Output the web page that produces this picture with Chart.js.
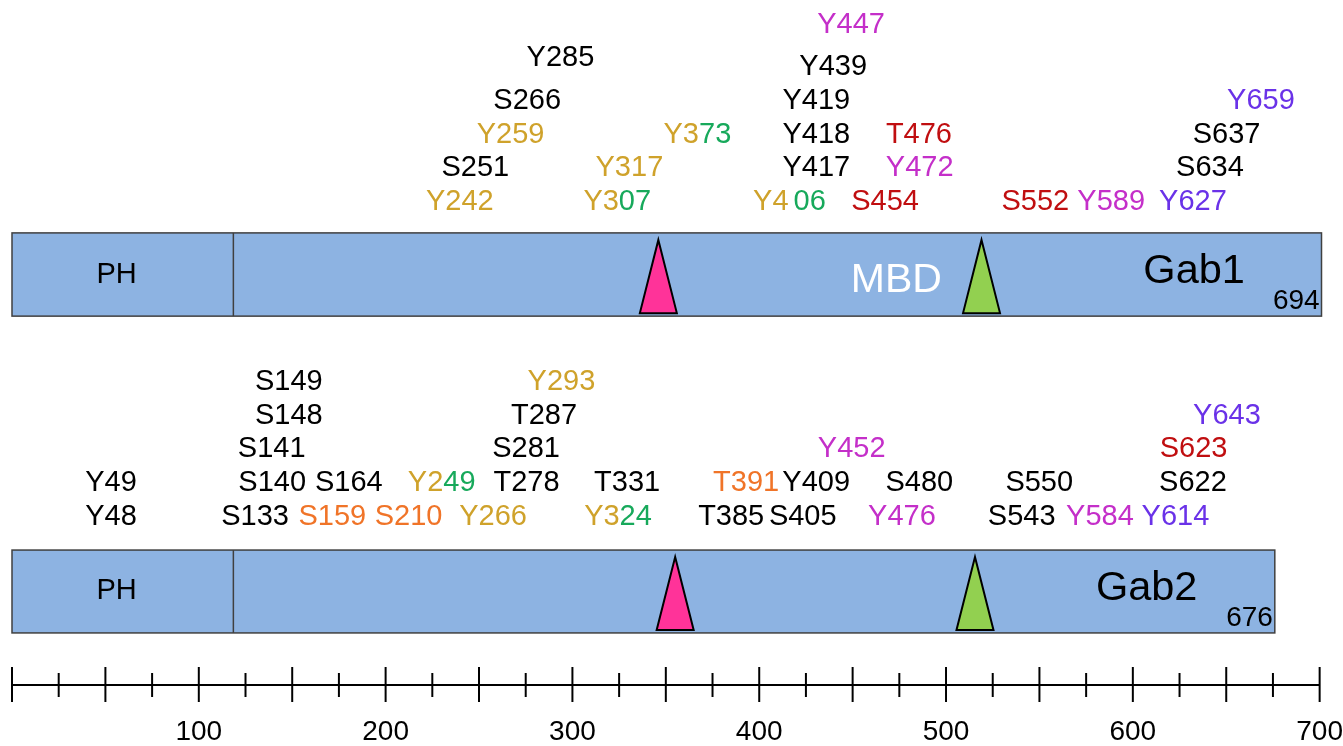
<!DOCTYPE html>
<html>
<head>
<meta charset="utf-8">
<script src="https://cdn.jsdelivr.net/npm/chart.js@4.4.0/dist/chart.umd.min.js"></script>
<style>
  html, body { margin: 0; padding: 0; background: #fff; }
  #wrap { width: 1343px; height: 746px; }
</style>
</head>
<body>
<div id="wrap"><canvas id="gab"></canvas></div>
<script>
// proteins
const proteins = ['Gab1', 'Gab2'];
const proteinLength = ['694', '676'];
const barEnd = [701, 676];        // Gab1 box is drawn out to the 700 mark in the figure
const phEnd = [118.5, 118.5];
const pinkMotif = [346, 355];
const greenMotif = [519, 515.5];
const axisTicks = [0, 700, 25];   // min, max, step

// Gab1 phosphosites: label, position on the residue axis, row above the box, colour
const gab1Sites = ['Y242', 'Y307', 'Y406', 'S454', 'S552', 'Y589', 'Y627',
  'S251', 'Y317', 'Y417', 'Y472', 'S634',
  'Y259', 'Y373', 'Y418', 'T476', 'S637',
  'S266', 'Y419', 'Y659',
  'Y285', 'Y439', 'Y447'];
const gab1SiteX = [239.7, 324, 416.2, 467.4, 547.8, 588.4, 632.2,
  248, 330.5, 430.6, 485.9, 641.3,
  266.9, 366.9, 430.6, 485.5, 650.2,
  275.8, 430.6, 668.6,
  293.6, 439.6, 449.2];
const gab1SiteRow = [0, 0, 0, 0, 0, 0, 0,
  1, 1, 1, 1, 1,
  2, 2, 2, 2, 2,
  3, 3, 3,
  4.27, 4, 5.25];
const gab1SiteColor = ['gold', 'gold+green', 'gold+green', 'red', 'red', 'magenta', 'purple',
  'black', 'gold', 'black', 'magenta', 'black',
  'gold', 'gold+green', 'black', 'red', 'black',
  'black', 'black', 'purple',
  'black', 'black', 'magenta'];

// Gab2 phosphosites
const gab2Sites = ['Y48', 'S133', 'S159', 'S210', 'Y266', 'Y324', 'T385', 'S405', 'Y476', 'S543', 'Y584', 'Y614',
  'Y49', 'S140', 'S164', 'Y249', 'T278', 'T331', 'T391', 'Y409', 'S480', 'S550', 'S622',
  'S141', 'S281', 'Y452', 'S623',
  'S148', 'T287', 'Y643',
  'S149', 'Y293'];
const gab2SiteX = [53, 130.1, 171.5, 212.3, 257.5, 324.4, 385, 423.3, 476.4, 540.5, 582.4, 622.8,
  53, 139.3, 180.3, 230, 275.4, 329.3, 393, 430.5, 485.7, 549.9, 632.2,
  139, 275.2, 449.5, 632.5,
  148.2, 284.8, 650.4,
  148.2, 294.1];
const gab2SiteRow = [0, 0, 0, 0, 0, 0, 0, 0, 0, 0, 0, 0,
  1, 1, 1, 1, 1, 1, 1, 1, 1, 1, 1,
  2, 2, 2, 2,
  3, 3, 3,
  4, 4];
const gab2SiteColor = ['black', 'black', 'orange', 'orange', 'gold', 'gold+green', 'black', 'black', 'magenta', 'black', 'magenta', 'purple',
  'black', 'black', 'black', 'gold+green', 'black', 'black', 'orange', 'black', 'black', 'black', 'black',
  'black', 'black', 'magenta', 'red',
  'black', 'black', 'purple',
  'black', 'gold'];

// vertical layout in row units (y axis runs 0..20)
const trackTop = [13.2, 3.94];
const trackBottom = [10.77, 1.52];
const rowBase = [14.1, 4.91];
const rowStep = 0.985;

const palette = {
  black: '#000000', gold: '#CFA22B', green: '#17A95B', red: '#C00E10',
  magenta: '#C42FC9', purple: '#6A32E8', orange: '#F07428'
};
const FONT = '"Liberation Sans", Arial, sans-serif';
const splitGap = { Y406: 5 };   // the figure leaves a wider gap between the two colours here

function siteData(xs, rows, p) {
  return xs.map((x, i) => ({ x: x, y: rowBase[p] + rows[i] * rowStep }));
}

const proteinBoxes = {
  id: 'proteinBoxes',
  beforeDatasetsDraw(chart) {
    const ctx = chart.ctx, xs = chart.scales.x, ys = chart.scales.y;
    ctx.save();
    proteins.forEach((name, p) => {
      const x0 = xs.getPixelForValue(0), x1 = xs.getPixelForValue(barEnd[p]);
      const yt = ys.getPixelForValue(trackTop[p]), yb = ys.getPixelForValue(trackBottom[p]);
      const yc = ys.getPixelForValue((trackTop[p] + trackBottom[p]) / 2);
      ctx.fillStyle = '#8DB3E2';
      ctx.fillRect(x0, yt, x1 - x0, yb - yt);
      ctx.strokeStyle = '#404040';
      ctx.lineWidth = 1.5;
      ctx.strokeRect(x0, yt, x1 - x0, yb - yt);
      const xp = xs.getPixelForValue(phEnd[p]);
      ctx.beginPath();
      ctx.moveTo(xp, yt); ctx.lineTo(xp, yb);
      ctx.stroke();

      // motif triangles
      [[pinkMotif[p], '#FF3399'], [greenMotif[p], '#92D050']].forEach(([pos, col]) => {
        const cx = xs.getPixelForValue(pos);
        ctx.beginPath();
        ctx.moveTo(cx, yt + 7);
        ctx.lineTo(cx + 18.5, yb - 3);
        ctx.lineTo(cx - 18.5, yb - 3);
        ctx.closePath();
        ctx.fillStyle = col;
        ctx.fill();
        ctx.strokeStyle = '#000';
        ctx.lineWidth = 2;
        ctx.stroke();
      });

      ctx.textBaseline = 'middle';
      ctx.fillStyle = '#000';
      ctx.textAlign = 'center';
      ctx.font = '29px ' + FONT;
      ctx.fillText('PH', xs.getPixelForValue(56), yc);
      ctx.font = '41.5px ' + FONT;
      ctx.fillText(name, xs.getPixelForValue(p === 0 ? 632.8 : 607.4), ys.getPixelForValue((trackTop[p] + trackBottom[p]) / 2 + 0.1));
      ctx.textAlign = 'right';
      ctx.font = '28px ' + FONT;
      ctx.fillText(proteinLength[p], xs.getPixelForValue(barEnd[p] - 1), ys.getPixelForValue(trackBottom[p] + 0.42));
      if (p === 0) {
        ctx.textAlign = 'center';
        ctx.fillStyle = '#FFFFFF';
        ctx.font = '41px ' + FONT;
        ctx.fillText('MBD', xs.getPixelForValue(473.4), ys.getPixelForValue((trackTop[p] + trackBottom[p]) / 2 - 0.18));
      }
    });
    ctx.restore();
  }
};

const siteLabels = {
  id: 'siteLabels',
  afterDatasetsDraw(chart) {
    const ctx = chart.ctx;
    ctx.save();
    ctx.font = '29px ' + FONT;
    ctx.textBaseline = 'middle';
    ctx.textAlign = 'left';
    chart.data.datasets.forEach((ds, d) => {
      const meta = chart.getDatasetMeta(d);
      meta.data.forEach((pt, i) => {
        const text = ds.siteNames[i];
        const cols = ds.siteColors[i].split('+');
        const parts = cols.length > 1 ? [text.slice(0, 2), text.slice(2)] : [text];
        const gap = parts.length > 1 ? (splitGap[text] || 0) : 0;
        const widths = parts.map(s => ctx.measureText(s).width);
        let x = pt.x - (widths.reduce((a, b) => a + b, 0) + gap) / 2;
        parts.forEach((s, k) => {
          ctx.fillStyle = palette[cols[k]];
          ctx.fillText(s, x, pt.y);
          x += widths[k] + gap;
        });
      });
    });
    ctx.restore();
  }
};

const crossTicks = {
  id: 'crossTicks',
  afterDraw(chart) {
    const ctx = chart.ctx, xs = chart.scales.x;
    const y = chart.chartArea.bottom;
    ctx.save();
    ctx.strokeStyle = '#000';
    ctx.lineWidth = 2;
    xs.ticks.forEach(t => {
      const px = xs.getPixelForValue(t.value);
      const major = t.value % 50 === 0;
      ctx.beginPath();
      ctx.moveTo(px, y - (major ? 18 : 12));
      ctx.lineTo(px, y + (major ? 17 : 12));
      ctx.stroke();
    });
    ctx.restore();
  }
};

const chart = new Chart(document.getElementById('gab'), {
  type: 'scatter',
  data: {
    datasets: [
      {
        label: 'Gab1 sites',
        data: siteData(gab1SiteX, gab1SiteRow, 0),
        siteNames: gab1Sites,
        siteColors: gab1SiteColor,
        pointRadius: 0
      },
      {
        label: 'Gab2 sites',
        data: siteData(gab2SiteX, gab2SiteRow, 1),
        siteNames: gab2Sites,
        siteColors: gab2SiteColor,
        pointRadius: 0
      }
    ]
  },
  plugins: [proteinBoxes, siteLabels, crossTicks],
  options: {
    responsive: true,
    maintainAspectRatio: false,
    animation: false,
    events: [],
    layout: { padding: { left: 12, right: 0, top: 0, bottom: 0 } },
    plugins: {
      legend: { display: false },
      tooltip: { enabled: false },
      title: { display: false }
    },
    scales: {
      x: {
        type: 'linear',
        min: axisTicks[0],
        max: axisTicks[1],
        // invisible tick marks only push the labels down; the visible ones are drawn by crossTicks
        grid: { display: true, drawOnChartArea: false, drawTicks: true, tickLength: 33, tickColor: 'rgba(0,0,0,0)' },
        border: { display: true, color: '#000', width: 2 },
        ticks: {
          stepSize: axisTicks[2],
          autoSkip: false,
          maxRotation: 0,
          padding: 0,
          color: '#000',
          font: { family: FONT, size: 28, lineHeight: '28px' },
          callback: v => (v % 100 === 0 && v > 0) ? String(v) : ''
        }
      },
      y: {
        type: 'linear',
        min: 0,
        max: 20,
        display: false
      }
    }
  }
});
</script>
</body>
</html>
